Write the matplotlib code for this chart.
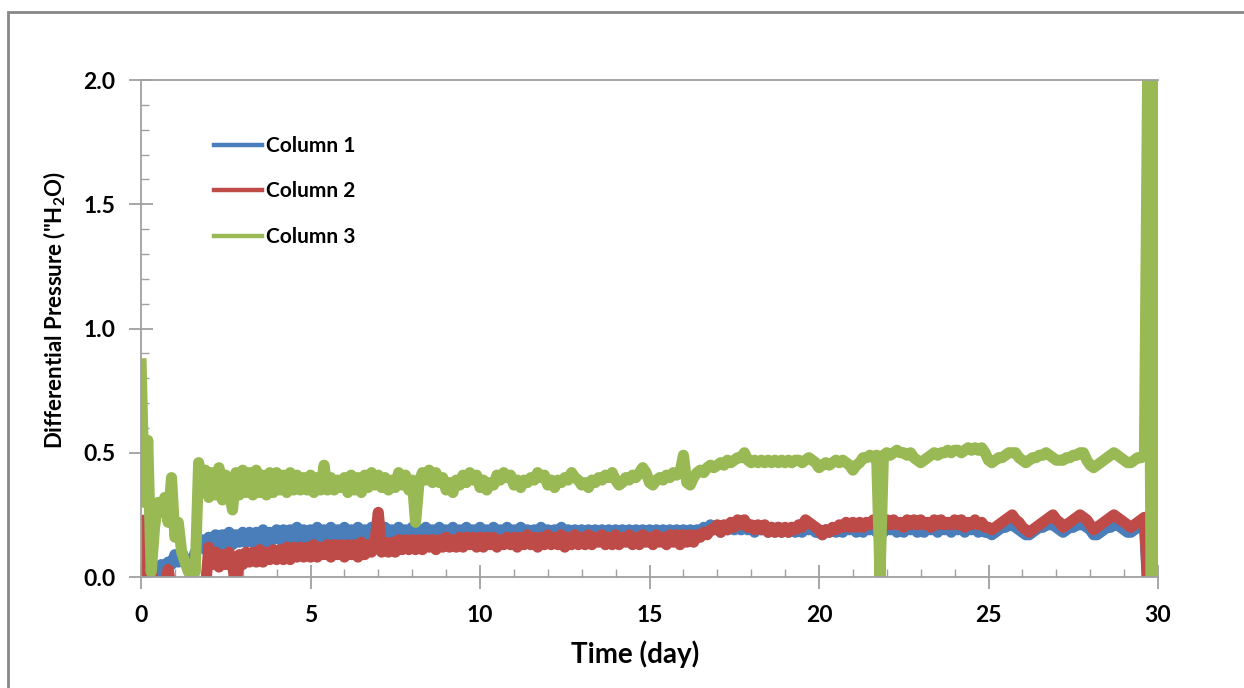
import matplotlib
matplotlib.use("Agg")
import matplotlib.pyplot as plt
from matplotlib.lines import Line2D
from matplotlib.patches import Rectangle
import numpy as np

plt.rcParams['font.family'] = ['Lato', 'DejaVu Sans']
plt.rcParams['font.weight'] = 'bold'
plt.rcParams['mathtext.fontset'] = 'custom'
plt.rcParams['mathtext.rm'] = 'Lato:bold'
plt.rcParams['mathtext.default'] = 'rm'

# sampling grid of the logger (day), one row of values per day below
days = np.round(np.arange(0, 30.05, 0.1), 1)

col1 = [
    -0.05, -0.05, 0.03, -0.05, -0.05, 0.02, 0.05, 0.03, 0.06, 0.05,
    0.09, 0.06, 0.10, 0.07, 0.05, 0.06, 0.10, 0.12, 0.15, 0.11,
    0.16, 0.12, 0.17, 0.12, 0.17, 0.13, 0.18, 0.13, 0.17, 0.14,
    0.18, 0.14, 0.18, 0.14, 0.18, 0.15, 0.19, 0.14, 0.18, 0.15,
    0.19, 0.15, 0.19, 0.15, 0.19, 0.16, 0.20, 0.15, 0.19, 0.16,
    0.19, 0.16, 0.20, 0.16, 0.19, 0.17, 0.20, 0.16, 0.19, 0.17,
    0.20, 0.16, 0.19, 0.17, 0.20, 0.16, 0.19, 0.17, 0.20, 0.17,
    0.19, 0.16, 0.20, 0.17, 0.19, 0.16, 0.20, 0.17, 0.19, 0.17,
    0.20, 0.16, 0.19, 0.17, 0.20, 0.17, 0.19, 0.16, 0.20, 0.17,
    0.19, 0.17, 0.20, 0.16, 0.19, 0.17, 0.20, 0.17, 0.19, 0.16,
    0.20, 0.17, 0.19, 0.17, 0.20, 0.16, 0.19, 0.17, 0.20, 0.17,
    0.19, 0.17, 0.20, 0.17, 0.19, 0.16, 0.19, 0.17, 0.20, 0.17,
    0.19, 0.16, 0.19, 0.17, 0.20, 0.17, 0.19, 0.16, 0.19, 0.17,
    0.19, 0.16, 0.19, 0.17, 0.19, 0.16, 0.19, 0.17, 0.19, 0.16,
    0.19, 0.16, 0.19, 0.17, 0.19, 0.16, 0.19, 0.16, 0.19, 0.17,
    0.19, 0.16, 0.19, 0.17, 0.19, 0.16, 0.19, 0.16, 0.19, 0.17,
    0.19, 0.17, 0.19, 0.17, 0.19, 0.18, 0.20, 0.19, 0.21, 0.20,
    0.20, 0.18, 0.20, 0.19, 0.20, 0.19, 0.20, 0.19, 0.20, 0.19,
    0.20, 0.18, 0.20, 0.19, 0.20, 0.18, 0.20, 0.18, 0.20, 0.18,
    0.19, 0.18, 0.20, 0.18, 0.20, 0.18, 0.20, 0.19, 0.20, 0.18,
    0.18, 0.17, 0.19, 0.18, 0.19, 0.18, 0.20, 0.18, 0.20, 0.19,
    0.20, 0.18, 0.20, 0.18, 0.20, 0.19, 0.20, 0.18, 0.20, 0.18,
    0.20, 0.19, 0.20, 0.18, 0.20, 0.18, 0.20, 0.19, 0.20, 0.18,
    0.20, 0.18, 0.20, 0.19, 0.20, 0.18, 0.20, 0.19, 0.20, 0.18,
    0.20, 0.19, 0.20, 0.18, 0.20, 0.19, 0.20, 0.18, 0.20, 0.18,
    0.18, 0.17, 0.18, 0.19, 0.20, 0.20, 0.21, 0.21, 0.20, 0.19,
    0.18, 0.17, 0.17, 0.18, 0.19, 0.20, 0.20, 0.21, 0.21, 0.21,
    0.20, 0.19, 0.18, 0.19, 0.20, 0.20, 0.21, 0.21, 0.21, 0.20,
    0.19, 0.17, 0.17, 0.18, 0.19, 0.20, 0.20, 0.21, 0.21, 0.20,
    0.19, 0.18, 0.18, 0.19, 0.20, 0.20, 0.21, -0.05, -0.05, -0.05,
    0.35,
]

col2 = [
    0.25, -0.05, -0.05, 0.03, -0.05, -0.05, -0.05, -0.05, 0.03, -0.05,
    -0.05, -0.05, -0.05, -0.05, -0.05, -0.05, -0.05, -0.05, -0.05, -0.05,
    0.12, 0.05, 0.10, 0.04, 0.09, 0.05, 0.10, 0.05, -0.05, 0.09,
    0.05, 0.10, 0.06, 0.10, 0.06, 0.11, 0.06, 0.10, 0.07, 0.11,
    0.07, 0.11, 0.07, 0.12, 0.07, 0.12, 0.08, 0.12, 0.08, 0.12,
    0.08, 0.13, 0.08, 0.12, 0.09, 0.13, 0.08, 0.13, 0.09, 0.13,
    0.08, 0.13, 0.09, 0.13, 0.08, 0.14, 0.09, 0.13, 0.10, 0.14,
    0.26, 0.10, 0.14, 0.10, 0.14, 0.10, 0.15, 0.11, 0.15, 0.11,
    0.15, 0.11, 0.15, 0.11, 0.15, 0.12, 0.15, 0.11, 0.15, 0.12,
    0.16, 0.12, 0.15, 0.12, 0.16, 0.12, 0.16, 0.13, 0.16, 0.12,
    0.16, 0.12, 0.16, 0.13, 0.16, 0.12, 0.15, 0.13, 0.16, 0.13,
    0.16, 0.12, 0.16, 0.13, 0.17, 0.13, 0.16, 0.12, 0.16, 0.13,
    0.17, 0.13, 0.16, 0.13, 0.17, 0.12, 0.16, 0.13, 0.17, 0.13,
    0.16, 0.13, 0.17, 0.13, 0.16, 0.14, 0.17, 0.13, 0.16, 0.13,
    0.17, 0.13, 0.16, 0.14, 0.17, 0.13, 0.16, 0.13, 0.17, 0.14,
    0.16, 0.13, 0.17, 0.14, 0.16, 0.13, 0.17, 0.14, 0.17, 0.13,
    0.17, 0.14, 0.17, 0.14, 0.17, 0.16, 0.18, 0.17, 0.19, 0.19,
    0.21, 0.18, 0.21, 0.19, 0.22, 0.20, 0.23, 0.21, 0.23, 0.20,
    0.21, 0.19, 0.21, 0.19, 0.21, 0.18, 0.20, 0.18, 0.20, 0.18,
    0.20, 0.18, 0.20, 0.19, 0.21, 0.20, 0.23, 0.22, 0.21, 0.20,
    0.19, 0.17, 0.19, 0.18, 0.20, 0.19, 0.21, 0.20, 0.22, 0.20,
    0.22, 0.20, 0.22, 0.20, 0.22, 0.21, 0.23, 0.21, 0.22, 0.20,
    0.23, 0.21, 0.23, 0.21, 0.22, 0.20, 0.23, 0.21, 0.23, 0.21,
    0.23, 0.21, 0.22, 0.20, 0.23, 0.21, 0.23, 0.21, 0.22, 0.21,
    0.23, 0.21, 0.23, 0.20, 0.22, 0.21, 0.23, 0.21, 0.22, 0.20,
    0.20, 0.19, 0.20, 0.21, 0.22, 0.23, 0.24, 0.25, 0.23, 0.22,
    0.20, 0.19, 0.18, 0.19, 0.20, 0.21, 0.22, 0.23, 0.24, 0.25,
    0.23, 0.22, 0.20, 0.21, 0.22, 0.23, 0.24, 0.25, 0.24, 0.23,
    0.21, 0.19, 0.20, 0.21, 0.22, 0.23, 0.24, 0.25, 0.24, 0.23,
    0.22, 0.21, 0.20, 0.21, 0.22, 0.23, 0.24, -0.05, -0.05, -0.05,
    0.77,
]

col3 = [
    0.88, 0.30, 0.55, 0.02, 0.20, 0.30, 0.26, 0.32, 0.22, 0.40,
    0.16, 0.22, 0.10, 0.06, 0.02, 0.03, 0.02, 0.46, 0.34, 0.43,
    0.32, 0.42, 0.33, 0.44, 0.31, 0.41, 0.34, 0.27, 0.42, 0.33,
    0.43, 0.34, 0.42, 0.33, 0.43, 0.34, 0.41, 0.33, 0.42, 0.34,
    0.42, 0.35, 0.41, 0.34, 0.42, 0.35, 0.41, 0.35, 0.40, 0.35,
    0.41, 0.34, 0.40, 0.35, 0.45, 0.35, 0.40, 0.35, 0.39, 0.36,
    0.40, 0.34, 0.41, 0.35, 0.40, 0.34, 0.41, 0.36, 0.42, 0.37,
    0.41, 0.36, 0.40, 0.35, 0.39, 0.36, 0.42, 0.37, 0.41, 0.35,
    0.39, 0.22, 0.38, 0.42, 0.39, 0.43, 0.38, 0.42, 0.38, 0.40,
    0.35, 0.38, 0.34, 0.39, 0.37, 0.41, 0.38, 0.42, 0.39, 0.41,
    0.36, 0.39, 0.35, 0.38, 0.37, 0.41, 0.39, 0.42, 0.40, 0.41,
    0.37, 0.39, 0.36, 0.39, 0.38, 0.40, 0.39, 0.42, 0.40, 0.41,
    0.37, 0.39, 0.36, 0.39, 0.38, 0.40, 0.39, 0.42, 0.40, 0.39,
    0.37, 0.38, 0.36, 0.39, 0.38, 0.40, 0.39, 0.41, 0.40, 0.42,
    0.39, 0.37, 0.38, 0.40, 0.39, 0.41, 0.40, 0.42, 0.44, 0.42,
    0.38, 0.37, 0.39, 0.40, 0.39, 0.41, 0.40, 0.42, 0.41, 0.42,
    0.49, 0.38, 0.37, 0.40, 0.42, 0.43, 0.42, 0.44, 0.45, 0.44,
    0.45, 0.46, 0.45, 0.47, 0.46, 0.47, 0.48, 0.48, 0.50, 0.47,
    0.46, 0.47, 0.46, 0.47, 0.46, 0.47, 0.46, 0.47, 0.46, 0.47,
    0.46, 0.47, 0.46, 0.47, 0.47, 0.46, 0.47, 0.48, 0.47, 0.46,
    0.44, 0.45, 0.46, 0.45, 0.46, 0.47, 0.46, 0.47, 0.46, 0.45,
    0.43, 0.45, 0.46, 0.48, 0.48, 0.49, 0.48, 0.49, 0.00, 0.49,
    0.50, 0.49, 0.50, 0.51, 0.50, 0.50, 0.49, 0.50, 0.48, 0.47,
    0.46, 0.47, 0.48, 0.49, 0.50, 0.49, 0.50, 0.50, 0.51, 0.50,
    0.51, 0.51, 0.50, 0.51, 0.52, 0.51, 0.52, 0.51, 0.52, 0.50,
    0.47, 0.46, 0.47, 0.48, 0.48, 0.49, 0.50, 0.50, 0.50, 0.48,
    0.47, 0.46, 0.47, 0.48, 0.48, 0.49, 0.49, 0.50, 0.49, 0.48,
    0.47, 0.47, 0.47, 0.48, 0.48, 0.49, 0.49, 0.50, 0.50, 0.47,
    0.45, 0.44, 0.45, 0.46, 0.47, 0.48, 0.49, 0.50, 0.49, 0.48,
    0.47, 0.46, 0.46, 0.47, 0.48, 0.48, 0.49, 2.10, -0.10, 2.10,
    -0.10,
]

labels = ['Column 1', 'Column 2', 'Column 3']
colors = ['#4A7EBB', '#BE4B48', '#98B954']

fig = plt.figure(figsize=(12.44, 6.88), dpi=100)
ax = fig.add_axes([141/1244, 1 - 577/688, (1158-141)/1244, (577-80)/688])

# figure border like the Excel chart area (right/bottom edges fall outside the image)
fig.patches.append(Rectangle((8/1244, -0.05), 1.1, 1 - 12/688 + 0.05, transform=fig.transFigure,
                             fill=False, edgecolor='#878787', linewidth=2))

for vals, c in zip([col1, col2, col3], colors):
    ax.plot(days, vals, color=c, lw=8, solid_joinstyle='round', solid_capstyle='butt')

ax.set_xlim(0, 30)
ax.set_ylim(0, 2.0)
ax.set_xticks(np.arange(0, 31, 5))
ax.set_xticks(np.arange(0, 31, 1), minor=True)
ax.set_yticks(np.arange(0, 2.01, 0.5))
ax.set_yticks(np.arange(0, 2.01, 0.1), minor=True)
ax.set_yticklabels(['0.0', '0.5', '1.0', '1.5', '2.0'])

for s in ['left', 'bottom', 'top']:
    ax.spines[s].set_color('#a0a0a0')
    ax.spines[s].set_linewidth(1.3)
ax.spines['right'].set_visible(False)

ax.tick_params(which='major', direction='inout', length=17, width=1.3, color='#a0a0a0',
               labelsize=16.5)
ax.tick_params(which='minor', direction='in', length=6, width=1.0, color='#a0a0a0')
ax.tick_params(axis='x', which='major', pad=12)
ax.tick_params(axis='y', which='major', pad=10)

ax.set_xlabel('Time (day)', fontsize=20, fontweight='bold')
ax.xaxis.set_label_coords((635 - 141) / (1158 - 141), (577 - 640) / (577 - 80))
ax.set_ylabel('Differential Pressure ("H$_2$O)', fontsize=16, fontweight='bold')
ax.yaxis.set_label_coords((68 - 141) / (1158 - 141), (577 - 310) / (577 - 80))

handles = [Line2D([0], [0], color=c, lw=3.2) for c in colors]
ax.legend(handles, labels, loc='upper left', bbox_to_anchor=(214/1244, 1 - 136/688),
          bbox_transform=fig.transFigure, frameon=False,
          handlelength=2.3, handletextpad=0.2, labelspacing=1.22,
          borderpad=0, borderaxespad=0, prop={'weight': 'bold', 'size': 15})

fig.savefig('out.png', dpi=100)
